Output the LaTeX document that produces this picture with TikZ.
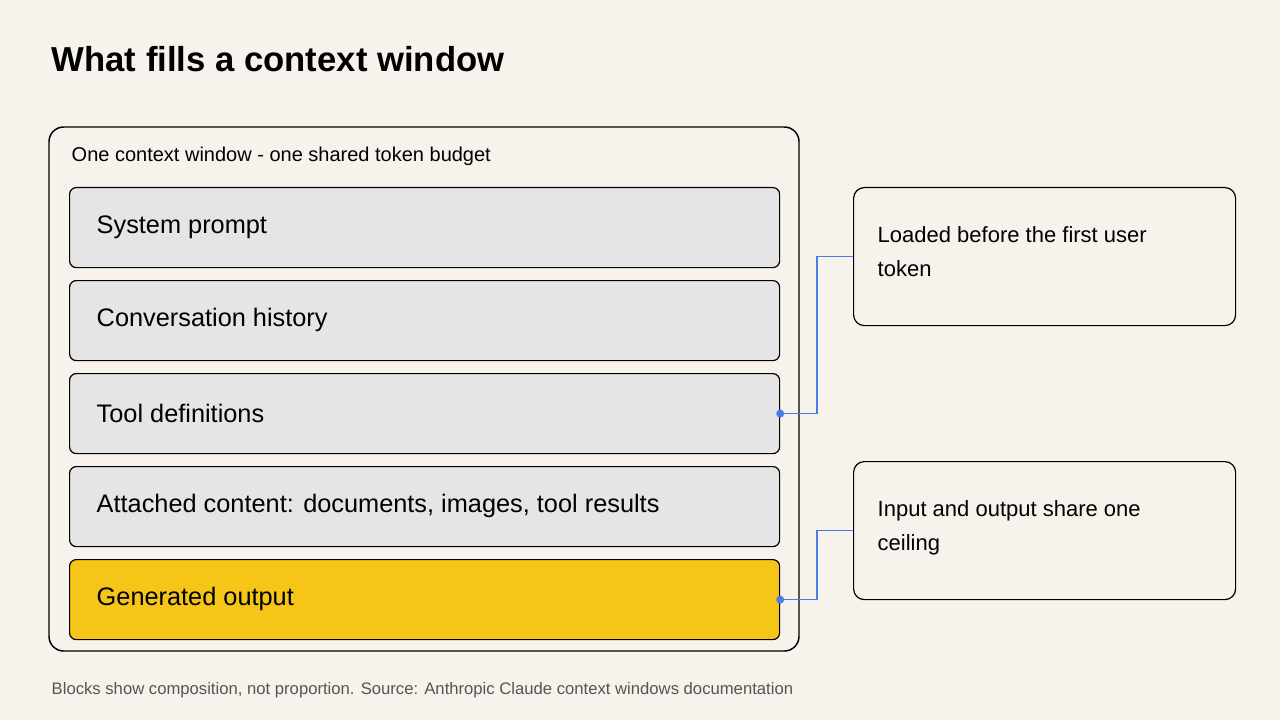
\documentclass[tikz,border=0pt]{standalone}
\usepackage{fontspec}
\setmainfont{Liberation Sans}
\usetikzlibrary{positioning}
\definecolor{paper}{HTML}{F7F3EC}
\definecolor{blockgray}{HTML}{E5E5E5}
\definecolor{gold}{HTML}{F5C518}
\definecolor{link}{HTML}{4A7CE8}
\definecolor{note}{HTML}{555555}
\tikzset{
  block/.style={draw=black,line width=0.9pt,rounded corners=5pt,minimum width=532.5pt,minimum height=60pt,anchor=north west,fill=blockgray},
  blocktext/.style={anchor=west,font=\fontsize{19}{23}\selectfont},
  side/.style={draw=black,line width=0.9pt,rounded corners=8pt,fill=paper,minimum width=286.5pt,minimum height=103.5pt,anchor=north west},
  sidetext/.style={anchor=north west,align=left,font=\fontsize{16.5}{25.5}\selectfont},
  wire/.style={link,line width=1.1pt},
}
\begin{document}
\begin{tikzpicture}[x=0.75pt,y=-0.75pt]
\fill[paper] (0,0) rectangle (1280,720);
\useasboundingbox (0,0) rectangle (1280,720);
% Title
\node[anchor=base west,font=\fontsize{26}{30}\selectfont\bfseries] (title) at (47,72) {What fills a context window};
% The shared window
\draw[line width=1.1pt,rounded corners=11pt] (49,127) rectangle (799,651);
\node[anchor=west,font=\fontsize{15}{18}\selectfont] (caption) at (67,156) {One context window - one shared token budget};
% Blocks inside the window
\node[block] (sys) at (69,187) {};
\node[block] (hist) at (69,280) {};
\node[block] (tools) at (69,373) {};
\node[block] (att) at (69,466) {};
\node[block,fill=gold] (out) at (69,559) {};
\node[blocktext] at (92,227) {System prompt};
\node[blocktext] at (92,320) {Conversation history};
\node[blocktext] at (92,413) {Tool definitions};
\node[blocktext] at (92,506) {Attached content: documents, images, tool results};
\node[blocktext] at (92,599) {Generated output};
% Side notes
\node[side] (load) at (853,187) {};
\node[sidetext] at (873,222) {Loaded before the first user\\token};
\node[side] (ceil) at (853,461) {};
\node[sidetext] at (873,496) {Input and output share one\\ceiling};
% Connectors
\draw[wire] (tools.east) -- ++(37,0) |- (load.west);
\draw[wire] (out.east) -- ++(37,0) |- (ceil.west);
\fill[link] (tools.east) circle (3pt);
\fill[link] (out.east) circle (3pt);
% Footnote
\node[anchor=base west,note,font=\fontsize{12.5}{15}\selectfont] (foot) at (47,694) {Blocks show composition, not proportion. Source: Anthropic Claude context windows documentation};
\end{tikzpicture}
\end{document}
